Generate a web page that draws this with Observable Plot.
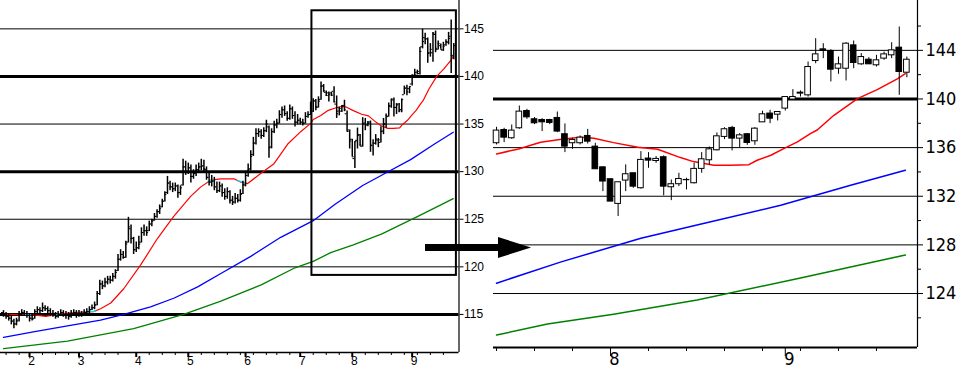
<!DOCTYPE html>
<html><head><meta charset="utf-8">
<script src="https://cdn.jsdelivr.net/npm/d3@7"></script>
<script src="https://cdn.jsdelivr.net/npm/@observablehq/plot@0.6"></script>
<style>
body{margin:0;background:#fff;}
#chart{position:relative;width:964px;height:373px;overflow:hidden;background:#fff;}
#left,#right{position:absolute;top:0;}
#left{left:0;}
#right{left:480px;}
#arrow{position:absolute;left:0;top:0;pointer-events:none;}
svg{overflow:visible;}
</style></head>
<body>
<div id="chart"><div id="left"></div><div id="right"></div>
<svg id="arrow" width="964" height="373"><rect x="425" y="244" width="78" height="7" fill="#000"/><polygon points="498,237 531,247.5 498,258" fill="#000"/></svg>
</div>
<script>
// ---- daily prices, trading-day index 0..173 (mid-Jan .. late Sep) ----
const open = [
115.2,115.0,114.8,114.6,114.3,114.0,114.4,115.0,115.2,115.1,
114.9,114.6,114.6,115.3,115.5,115.4,115.7,115.6,115.4,115.1,
115.0,114.8,115.0,115.2,115.0,114.9,114.8,115.1,115.2,115.0,
115.1,115.0,115.2,115.3,115.5,115.7,116.0,117.2,118.2,118.0,
118.4,118.7,118.6,119.0,119.6,120.8,121.3,121.0,122.6,124.0,
123.0,121.8,122.0,122.6,123.6,123.8,123.8,124.5,124.9,125.3,
125.8,126.3,126.9,127.8,128.8,128.4,128.2,128.5,127.8,128.6,
130.5,130.0,130.4,129.5,129.8,130.2,130.5,130.6,130.2,129.4,
128.9,129.0,128.4,128.0,128.5,127.8,127.4,127.9,127.0,126.8,
127.2,127.0,127.7,128.6,129.6,130.3,131.8,133.0,134.0,134.2,
133.8,134.3,134.7,132.6,134.2,134.9,135.1,136.0,136.5,136.1,
135.6,136.6,135.9,135.2,135.4,135.2,135.1,135.8,136.0,
136.36,137.45,136.77,137.59,139.01,138.33,138.27,138.27,138.44,137.10,
136.36,136.36,136.96,136.08,134.38,133.40,131.37,133.29,133.89,132.66,
135.10,134.90,135.21,132.74,132.99,133.32,133.07,134.25,134.96,135.78,
136.88,137.62,136.74,137.10,136.52,138.08,138.80,138.71,139.21,139.95,
140.44,140.30,143.12,144.08,143.95,142.49,142.49,144.41,142.85,143.23,
142.77,143.32,143.59,144.22,142.16];
const high = [
115.4,115.2,115.0,114.8,114.5,114.6,115.3,115.5,115.4,115.3,
115.1,115.0,115.5,115.8,115.7,116.2,115.9,115.8,115.6,115.4,
115.2,115.3,115.5,115.4,115.3,115.2,115.4,115.5,115.4,115.4,
115.3,115.5,115.6,115.8,116.0,116.3,117.4,118.6,118.5,118.8,
119.0,119.0,119.3,119.7,121.3,121.8,121.6,122.7,125.2,124.4,
123.1,122.6,123.2,124.1,124.4,124.2,124.8,125.0,125.6,126.0,
126.5,127.1,127.9,129.5,129.0,128.8,128.8,128.6,128.5,131.3,
131.1,130.9,130.7,130.2,130.7,130.9,131.3,131.2,130.5,129.8,
129.6,129.4,128.9,128.9,128.7,128.2,128.3,128.0,127.4,127.7,
127.6,128.1,129.0,130.0,130.8,132.2,133.6,134.5,134.5,134.4,
134.6,135.4,134.8,134.5,135.3,135.5,136.4,136.8,136.9,136.3,
137.0,136.8,136.3,136.0,135.6,135.5,136.2,136.3,137.3,
137.67,137.59,137.86,139.42,139.15,138.47,138.38,138.33,138.93,137.95,
136.77,136.96,137.50,136.36,134.38,133.40,133.15,134.58,133.89,135.67,
135.59,135.26,135.32,133.34,133.89,133.48,134.71,135.59,136.05,137.21,
137.64,137.75,137.15,137.15,137.64,138.99,139.07,138.93,140.16,140.77,
140.66,143.04,144.96,144.55,144.05,143.45,144.63,144.77,143.73,143.40,
143.59,143.86,144.63,145.92,143.45];
const low = [
114.7,114.5,114.3,113.9,113.5,113.8,114.2,114.8,114.8,114.6,
114.2,114.3,114.5,115.1,115.1,115.2,115.3,115.1,114.8,114.7,
114.5,114.6,114.8,114.7,114.5,114.4,114.6,114.8,114.6,114.7,
114.7,114.8,115.0,115.1,115.4,115.5,115.9,117.0,117.6,117.8,
118.1,118.2,118.4,118.7,119.5,120.6,120.8,120.9,122.5,122.4,
121.3,121.5,121.8,122.5,123.2,123.2,123.7,124.2,124.8,125.1,
125.5,126.2,126.8,127.6,128.0,127.8,127.9,127.2,127.5,128.5,
129.6,129.7,128.8,129.2,129.5,129.9,130.1,129.9,129.1,128.5,
128.4,128.0,127.7,127.8,127.3,127.0,127.1,126.6,126.45,126.6,
126.7,126.8,127.6,128.4,129.4,130.1,131.6,132.8,133.6,133.4,
133.6,134.1,131.4,132.4,134.0,134.5,135.0,135.6,135.8,135.3,
135.4,135.5,134.7,134.9,134.9,134.8,135.0,135.6,135.9,
136.22,136.41,136.68,137.51,138.33,137.89,137.32,137.89,137.23,135.59,
135.86,136.22,136.30,134.22,132.38,131.56,130.33,132.38,132.66,132.58,
134.30,134.71,132.03,131.64,132.79,132.52,133.01,133.89,134.55,135.73,
136.66,135.73,136.00,136.19,136.19,138.08,137.97,138.19,139.01,139.95,
140.16,140.16,142.90,143.32,141.40,142.03,141.48,142.49,142.77,142.85,
142.63,143.18,143.32,140.30,141.75];
const close = [
115.0,114.8,114.6,114.3,114.0,114.3,115.0,115.2,115.1,114.9,
114.6,114.5,115.3,115.5,115.4,115.7,115.6,115.4,115.1,115.0,
114.8,115.0,115.2,115.0,114.9,114.8,115.1,115.2,115.0,115.1,
115.0,115.2,115.3,115.5,115.7,116.0,117.2,118.2,118.0,118.4,
118.7,118.6,119.0,119.4,120.8,121.3,121.0,122.4,124.2,123.0,
121.8,122.0,122.4,123.6,123.8,123.6,124.5,124.8,125.3,125.8,
126.1,126.9,127.6,128.8,128.4,128.2,128.5,127.8,128.3,130.5,
130.0,130.4,129.5,129.8,130.2,130.5,130.6,130.3,129.4,128.9,
129.0,128.4,128.0,128.5,127.8,127.4,127.9,127.0,126.8,127.2,
127.0,127.6,128.6,129.6,130.2,131.6,133.0,134.0,134.2,133.8,
134.3,135.0,132.5,134.2,134.9,135.1,136.0,136.5,136.1,135.6,
136.6,135.9,135.2,135.4,135.2,135.1,135.8,136.0,136.6,
137.40,136.82,137.40,138.96,138.49,138.00,138.08,138.03,137.32,136.08,
136.63,136.82,136.49,134.22,133.21,131.56,133.15,133.81,132.79,134.99,
134.93,135.07,132.79,132.99,133.42,133.34,134.25,135.04,135.86,136.93,
137.51,136.74,137.01,136.38,137.56,138.74,138.38,138.93,140.16,140.16,
140.52,142.63,143.67,143.95,142.41,142.85,144.55,142.96,143.45,142.85,
143.18,143.67,144.00,142.22,143.23];

// ---- moving averages: [day index, value] ----
const redMA = [[0,115.0],[2.7,115.0],[11.5,114.95],[16.2,114.8],[21.9,115.05],[27.7,115.2],[34.6,115.3],[37.3,115.6],[41.2,116.2],[46.2,117.7],[52.7,120.2],[59.2,123.0],[65.4,125.3],[71.9,127.4],[75.8,128.4],[79.6,129.1],[83.5,129.25],[88.5,129.25],[91.2,128.9],[93.8,128.75],[98.8,129.8],[103.8,130.8],[109.2,132.9],[114.2,134.2],[118.1,135.1],[119,135.48],[121.9,135.89],[124.8,136.44],[127.8,136.71],[130.1,136.85],[131.8,136.77],[134.4,136.41],[137.6,136.03],[140.2,135.86],[143.2,135.18],[144.9,134.85],[147.6,134.55],[149.8,134.55],[152.2,134.6],[153.3,134.96],[155.1,135.37],[156.8,135.92],[158.6,136.47],[160.3,137.15],[161.2,137.45],[163.4,138.66],[166.5,140.03],[169.1,140.77],[171.8,141.67],[172.8,142.08]];
const blueMA = [[0,112.6],[12,113.2],[24.6,113.8],[37.3,114.4],[46.2,115.0],[56.5,115.8],[65.4,116.7],[74.6,117.9],[83.5,119.3],[95,121.1],[106.5,123.1],[119,124.85],[127.4,126.58],[138,128.55],[145.8,129.7],[156.4,131.26],[165.6,132.9],[172.8,134.14]];
const greenMA = [[0,111.4],[24.6,112.2],[50,113.5],[69.2,115.0],[83.5,116.4],[99,118.1],[112,119.9],[119,120.58],[125.7,121.49],[134.4,122.3],[145.4,123.46],[159,125.27],[172.8,127.16]];
const cyanSegs = [
  [[8.5,115.0],[10.4,114.98]],
  [[20,114.95],[22,115.05]],
  [[31.5,115.25],[35.4,115.35]],
  [[78.5,128.95],[80.8,129.15]],
  [[90,129.05],[93,128.8]]
];

// ---- axes / ticks ----
const leftYTicks = [115,120,125,130,135,140,145];
const leftGridThin = [120,125,135,145];
const leftGridThick = [115,130,140];
const rightYTicks = [124,128,132,136,140,144];
const rightYMinor = [122,126,130,134,138,142,146];
const rightGridThin = [124,128,132,136,144];
const rightGridThick = [140];
const monthTicks = [10,29,51,71,93,114,134,157];
const monthLabels = ["2","3","4","5","6","7","8","9"];
const weekTicks = [1,6,15,20,25,34,39,44,56,61,66,76,81,86,91,96,101,105,110,119,124,129,139,144,149,154,159,164,169];
const rightWeekTicks = [119,124,129,134,139,144,149,154,159,164,169];
const rightMonthTicks = [134,157];
const rightMonthLabels = ["8","9"];
const zoomBox = {i1:118.5, i2:174, v1:119.1, v2:146.9};

const days = open.map((o,i)=>({i, open:o, high:high[i], low:low[i], close:close[i]}));
const pts = a => a.map(([i,v])=>({i,v}));
const monthLab = new Map(monthTicks.map((t,k)=>[t,monthLabels[k]]));
const rMonthLab = new Map(rightMonthTicks.map((t,k)=>[t,rightMonthLabels[k]]));

// ---- left overview panel ----
const left = Plot.plot({
  width: 490, height: 373,
  marginLeft: 0, marginRight: 31.5, marginTop: 0, marginBottom: 21,
  x: {domain: [-1.15, 175], axis: null},
  y: {domain: [111.0, 147.98], axis: null},
  style: {background: "transparent", fontFamily: "'Liberation Sans', Arial, sans-serif", fontSize: "12px", color: "#000", overflow: "visible"},
  marks: [
    Plot.ruleY(leftGridThin, {stroke: "#000", strokeWidth: 1}),
    Plot.ruleY(leftGridThick, {stroke: "#000", strokeWidth: 3}),
    Plot.line(pts(greenMA), {x: "i", y: "v", stroke: "#008000", strokeWidth: 1.3}),
    Plot.line(pts(blueMA), {x: "i", y: "v", stroke: "#0000ff", strokeWidth: 1.3}),
    Plot.line(pts(redMA), {x: "i", y: "v", stroke: "#ff0000", strokeWidth: 1.2}),
    ...cyanSegs.map(s => Plot.line(pts(s), {x: "i", y: "v", stroke: "#00e5ff", strokeWidth: 1.4})),
    Plot.ruleX(days, {x: "i", y1: "low", y2: "high", stroke: "#000", strokeWidth: 1.5}),
    Plot.ruleY(days, {y: "open", x1: d => d.i - 0.75, x2: "i", stroke: "#000", strokeWidth: 1}),
    Plot.ruleY(days, {y: "close", x1: "i", x2: d => d.i + 0.75, stroke: "#000", strokeWidth: 1}),
    Plot.rect([zoomBox], {x1: "i1", x2: "i2", y1: "v1", y2: "v2", fill: "none", stroke: "#000", strokeWidth: 2}),
    Plot.ruleX([175], {stroke: "#000", strokeWidth: 1.2, y1: 111, y2: 148}),
    Plot.ruleY([111.0], {stroke: "#000", strokeWidth: 1.5}),
    Plot.axisY({ticks: leftYTicks, anchor: "right", tickSize: 4, tickPadding: 1, label: null, fontSize: 12}),
    Plot.axisX({ticks: weekTicks, anchor: "bottom", tickSize: 3, tickFormat: () => "", label: null}),
    Plot.axisX({ticks: monthTicks, anchor: "bottom", tickSize: 5, strokeWidth: 2, tickFormat: () => "", label: null}),
    Plot.text(monthTicks, {x: d => d, frameAnchor: "bottom", lineAnchor: "top", dy: 4, dx: 2, text: d => monthLab.get(d), fontSize: 12})
  ]
});
document.getElementById("left").append(left);

// ---- right zoomed panel ----
const rDays = days.filter(d => d.i >= 119);
const rPts = a => pts(a).filter(p => p.i >= 119);
const right = Plot.plot({
  width: 484, height: 373,
  marginLeft: 13, marginRight: 47, marginTop: 0, marginBottom: 26,
  x: {domain: [118.6, 174.4], axis: null},
  y: {domain: [119.56, 148.1], axis: null},
  style: {background: "transparent", fontFamily: "'Liberation Sans Narrow', 'DejaVu Sans Condensed', Arial, sans-serif", fontSize: "18px", color: "#000", overflow: "visible"},
  marks: [
    Plot.ruleY(rightGridThin, {stroke: "#000", strokeWidth: 1}),
    Plot.ruleY(rightGridThick, {stroke: "#000", strokeWidth: 3}),
    Plot.line(rPts(greenMA), {x: "i", y: "v", stroke: "#008000", strokeWidth: 1.5}),
    Plot.line(rPts(blueMA), {x: "i", y: "v", stroke: "#0000ff", strokeWidth: 1.5}),
    Plot.line(rPts(redMA), {x: "i", y: "v", stroke: "#ff0000", strokeWidth: 1.5}),
    Plot.ruleX(rDays, {x: "i", y1: "low", y2: "high", stroke: "#000", strokeWidth: 1}),
    Plot.rect(rDays, {x1: d => d.i - 0.37, x2: d => d.i + 0.37, y1: "open", y2: "close",
      fill: d => d.close >= d.open ? "#fff" : "#000", stroke: "#000", strokeWidth: 1}),
    Plot.ruleX([174.4], {stroke: "#000", strokeWidth: 1.2}),
    Plot.ruleY([119.56], {stroke: "#000", strokeWidth: 2}),
    Plot.axisY({ticks: rightYTicks, anchor: "right", tickSize: 5, tickPadding: 3, label: null, fontSize: 18}),
    Plot.axisY({ticks: rightYMinor, anchor: "right", tickSize: 3, tickFormat: () => "", label: null}),
    Plot.axisX({ticks: rightWeekTicks, anchor: "bottom", tickSize: 4, tickFormat: () => "", label: null}),
    Plot.axisX({ticks: rightMonthTicks, anchor: "bottom", tickSize: 9, tickFormat: () => "", label: null}),
    Plot.text(rightMonthTicks, {x: d => d, frameAnchor: "bottom", lineAnchor: "top", dy: 5, dx: 4, text: d => rMonthLab.get(d), fontSize: 18})
  ]
});
document.getElementById("right").append(right);
</script>
</body></html>
